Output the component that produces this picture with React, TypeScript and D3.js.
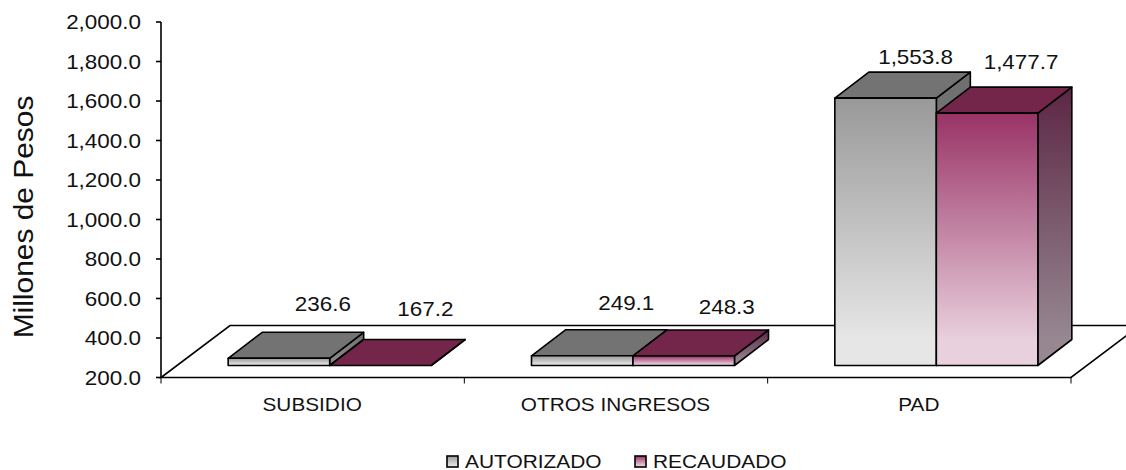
import * as d3 from "d3";

const categories = ["SUBSIDIO", "OTROS INGRESOS", "PAD"];
const seriesNames = ["AUTORIZADO", "RECAUDADO"];
const autorizado = [236.6, 249.1, 1553.8];
const recaudado = [167.2, 248.3, 1477.7];
const yTicks = [200, 400, 600, 800, 1000, 1200, 1400, 1600, 1800, 2000];

// the labels in the original are placed by hand, so each one gets a small nudge
const labelNudge = [
  [[4, -3], [5, -6]],
  [[4, -2], [3, 2]],
  [[-10, 10], [-6, 0]],
];

const width = 1126;
const height = 470;
const font = "'Liberation Sans', Arial, sans-serif";

// 3d box of the floor and of the bars
const floorDx = 69;
const floorDy = 52;
const barDx = 34;
const barDy = 26;
const insetX = 17;
const insetY = 12;

const x0 = d3.scaleBand().domain(categories).range([161, 1071]);
const x1 = d3.scaleBand().domain(seriesNames).range([0, 203]);
const y = d3.scaleLinear().domain([200, 2000]).range([377.5, 22]);
const fmt = d3.format(",.1f");

const colors = [
  { top: "#737373", side: ["#6e6e6e", "#8a8a8a"], front: ["#999999", "#e6e6e6"] },
  { top: "#732649", side: ["#5c2645", "#968791"], front: ["#993366", "#e9d0dd"] },
];

// text in the picture is stretched sideways
function Stretched(props: { x: number; y: number; size: number; anchor?: string; rotate?: boolean; children: any }) {
  const { x, y, size, anchor, rotate, children } = props;
  const t = rotate ? `translate(${x},${y}) rotate(-90) scale(1.1,1)` : `translate(${x},${y}) scale(1.1,1)`;
  return (
    <text transform={t} fontSize={size} fontFamily={font} textAnchor={anchor ?? "middle"} fill="#111">
      {children}
    </text>
  );
}

function poly(pts: number[][]) {
  return pts.map((p) => p.join(",")).join(" ");
}

export default function App() {
  const values = [autorizado, recaudado];
  const band = x0.bandwidth();
  const left = x0.range()[0];
  const right = x0.range()[1];
  const base = y(200);
  const offset = (band - x1.range()[1]) / 2;

  return (
    <svg width={width} height={height} style={{ position: "absolute", left: 0, top: 0, background: "#fff" }}>
      <defs>
        {seriesNames.map((s, i) => (
          <g key={s}>
            <linearGradient id={`front${i}`} x1="0" y1="0" x2="0" y2="1">
              <stop offset="0" stopColor={colors[i].front[0]} />
              <stop offset="0.9" stopColor={colors[i].front[1]} />
            </linearGradient>
            <linearGradient id={`side${i}`} x1="0" y1="0" x2="0" y2="1">
              <stop offset="0" stopColor={colors[i].side[0]} />
              <stop offset="0.9" stopColor={colors[i].side[1]} />
            </linearGradient>
          </g>
        ))}
      </defs>

      <polygon
        points={poly([[left, base], [right, base], [right + floorDx, base - floorDy], [left + floorDx, base - floorDy]])}
        fill="#fff"
        stroke="#000"
        strokeWidth={1.6}
      />

      <line x1={left} x2={left} y1={y(2000)} y2={base} stroke="#000" strokeWidth={1.6} />
      {yTicks.map((t) => (
        <g key={t}>
          <line x1={left - 5} x2={left} y1={y(t)} y2={y(t)} stroke="#000" strokeWidth={1.6} />
          <Stretched x={left - 20} y={y(t) + 7} size={20.4} anchor="end">
            {fmt(t)}
          </Stretched>
        </g>
      ))}
      {d3.range(categories.length + 1).map((i) => (
        <line key={i} x1={left + i * band} x2={left + i * band} y1={base} y2={base + 6} stroke="#000" strokeWidth={1} />
      ))}

      <Stretched x={33} y={217} size={27.2} rotate>
        Millones de Pesos
      </Stretched>

      {categories.map((c, ci) => (
        <g key={c}>
          {seriesNames.map((s, si) => {
            const bx = (x0(c) ?? 0) + offset + insetX + (x1(s) ?? 0);
            const bw = x1.bandwidth();
            const by = base - insetY;
            const v = values[si][ci];
            const topY = y(Math.max(v, 200)) - insetY;
            const h = by - topY;
            return (
              <g key={s} stroke="#000" strokeWidth={1.6} strokeLinejoin="round">
                <polygon
                  points={poly([[bx + bw, topY], [bx + bw + barDx, topY - barDy], [bx + bw + barDx, by - barDy], [bx + bw, by]])}
                  fill={`url(#side${si})`}
                />
                <polygon
                  points={poly([[bx, topY], [bx + barDx, topY - barDy], [bx + bw + barDx, topY - barDy], [bx + bw, topY]])}
                  fill={colors[si].top}
                />
                {h > 0 && <rect x={bx} y={topY} width={bw} height={h} fill={`url(#front${si})`} />}
              </g>
            );
          })}
          {seriesNames.map((s, si) => {
            const bw = x1.bandwidth();
            const cx = (x0(c) ?? 0) + offset + insetX + (x1(s) ?? 0) + bw / 2;
            const v = values[si][ci];
            const topY = y(Math.max(v, 200)) - insetY;
            const n = labelNudge[ci][si];
            return (
              <Stretched key={s} x={cx + 40 + n[0]} y={topY - 44 + n[1]} size={20.4}>
                {fmt(v)}
              </Stretched>
            );
          })}
          <Stretched x={(x0(c) ?? 0) + band / 2 - 0.5} y={411} size={18.9}>
            {c}
          </Stretched>
        </g>
      ))}

      {seriesNames.map((s, i) => {
        const lx = [447, 635][i];
        return (
          <g key={s}>
            <rect x={lx} y={456} width={11} height={11} fill={`url(#front${i})`} stroke="#000" strokeWidth={1.6} />
            <Stretched x={lx + 18} y={467.5} size={19} anchor="start">
              {s}
            </Stretched>
          </g>
        );
      })}
    </svg>
  );
}
